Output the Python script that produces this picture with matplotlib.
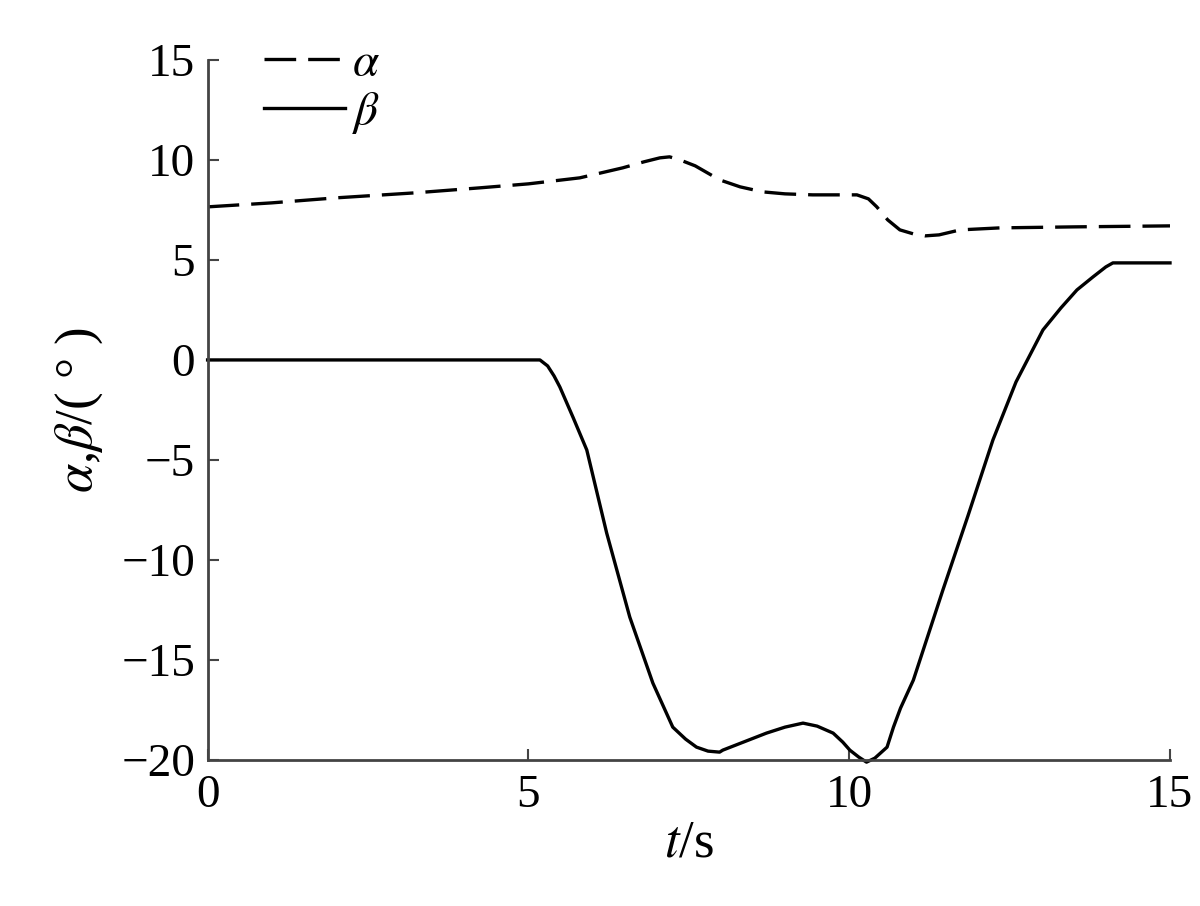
import matplotlib.pyplot as plt

plt.rcParams['font.family'] = ['Liberation Serif', 'DejaVu Serif']
plt.rcParams['mathtext.fontset'] = 'stix'

# values
t_alpha = [0.0, 1.0, 2.0, 3.23, 4.24, 5.0, 5.8, 6.47, 6.8, 7.05, 7.2, 7.36, 7.6,
           7.98, 8.3, 8.65, 9.0, 9.43, 10.12, 10.3, 10.43, 10.6, 10.79, 11.0,
           11.18, 11.4, 11.73, 12.35, 13.5, 15.0]
alpha = [7.65, 7.85, 8.1, 8.35, 8.6, 8.8, 9.1, 9.6, 9.9, 10.1, 10.15, 10.0, 9.7,
         9.0, 8.65, 8.4, 8.3, 8.25, 8.25, 8.05, 7.65, 7.0, 6.5, 6.3,
         6.2, 6.25, 6.5, 6.6, 6.65, 6.7]

t_beta = [0.0, 5.18, 5.3, 5.4, 5.49, 5.7, 5.91, 6.22, 6.58, 6.94, 7.25, 7.45, 7.62,
          7.8, 7.98, 8.03, 8.35, 8.71, 9.0, 9.28, 9.5, 9.75, 9.9, 10.01, 10.15,
          10.27, 10.4, 10.59, 10.69, 10.8, 11.0, 11.46, 11.85, 12.24, 12.6, 13.02, 13.3,
          13.55, 13.8, 14.0, 14.11, 15.0]
beta = [0.0, 0.0, -0.3, -0.8, -1.35, -2.9, -4.5, -8.65, -12.85, -16.15, -18.35, -18.95, -19.35,
        -19.55, -19.6, -19.5, -19.1, -18.65, -18.35, -18.15, -18.3, -18.65, -19.1, -19.5, -19.85,
        -20.1, -19.9, -19.35, -18.35, -17.4, -16.0, -11.5, -7.8, -4.0, -1.1, 1.5, 2.6,
        3.5, 4.15, 4.65, 4.85, 4.85]

fig = plt.figure(figsize=(12, 9.06), dpi=100)
ax = fig.add_axes([0.173, 0.161, 0.802, 0.773])

ax.plot(t_alpha, alpha, color='black', lw=2.4, dashes=(9.5, 3.6), label=r'$\alpha$')
ax.plot(t_beta, beta, color='black', lw=2.4, label=r'$\beta$', clip_on=False)

ax.set_xlim(0, 15)
ax.set_ylim(-20, 15)
ax.set_xticks([0, 5, 10, 15])
ax.set_yticks([-20, -15, -10, -5, 0, 5, 10, 15])
ax.set_yticklabels(['\u221220', '\u221215', '\u221210', '\u22125', '0', '5', '10', '15'])

for s in ['top', 'right']:
    ax.spines[s].set_visible(False)
for s in ['left', 'bottom']:
    ax.spines[s].set_color('#444444')
    ax.spines[s].set_linewidth(2)

ax.tick_params(direction='in', length=8, width=1.5, color='#444444', labelsize=34)
ax.tick_params(axis='x', pad=10)
ax.tick_params(axis='y', pad=9)

ax.set_xlabel(r'$t$/s', fontsize=38, labelpad=2)
ax.set_ylabel(r'$\alpha$,$\beta$/( ° )', fontsize=38, labelpad=12)

ax.legend(loc='upper left', bbox_to_anchor=(0.059, 1.025), frameon=False,
          fontsize=34, handlelength=1.7, handletextpad=0.15, labelspacing=0.1,
          borderaxespad=0, borderpad=0)

fig.savefig('out.png', dpi=100)
